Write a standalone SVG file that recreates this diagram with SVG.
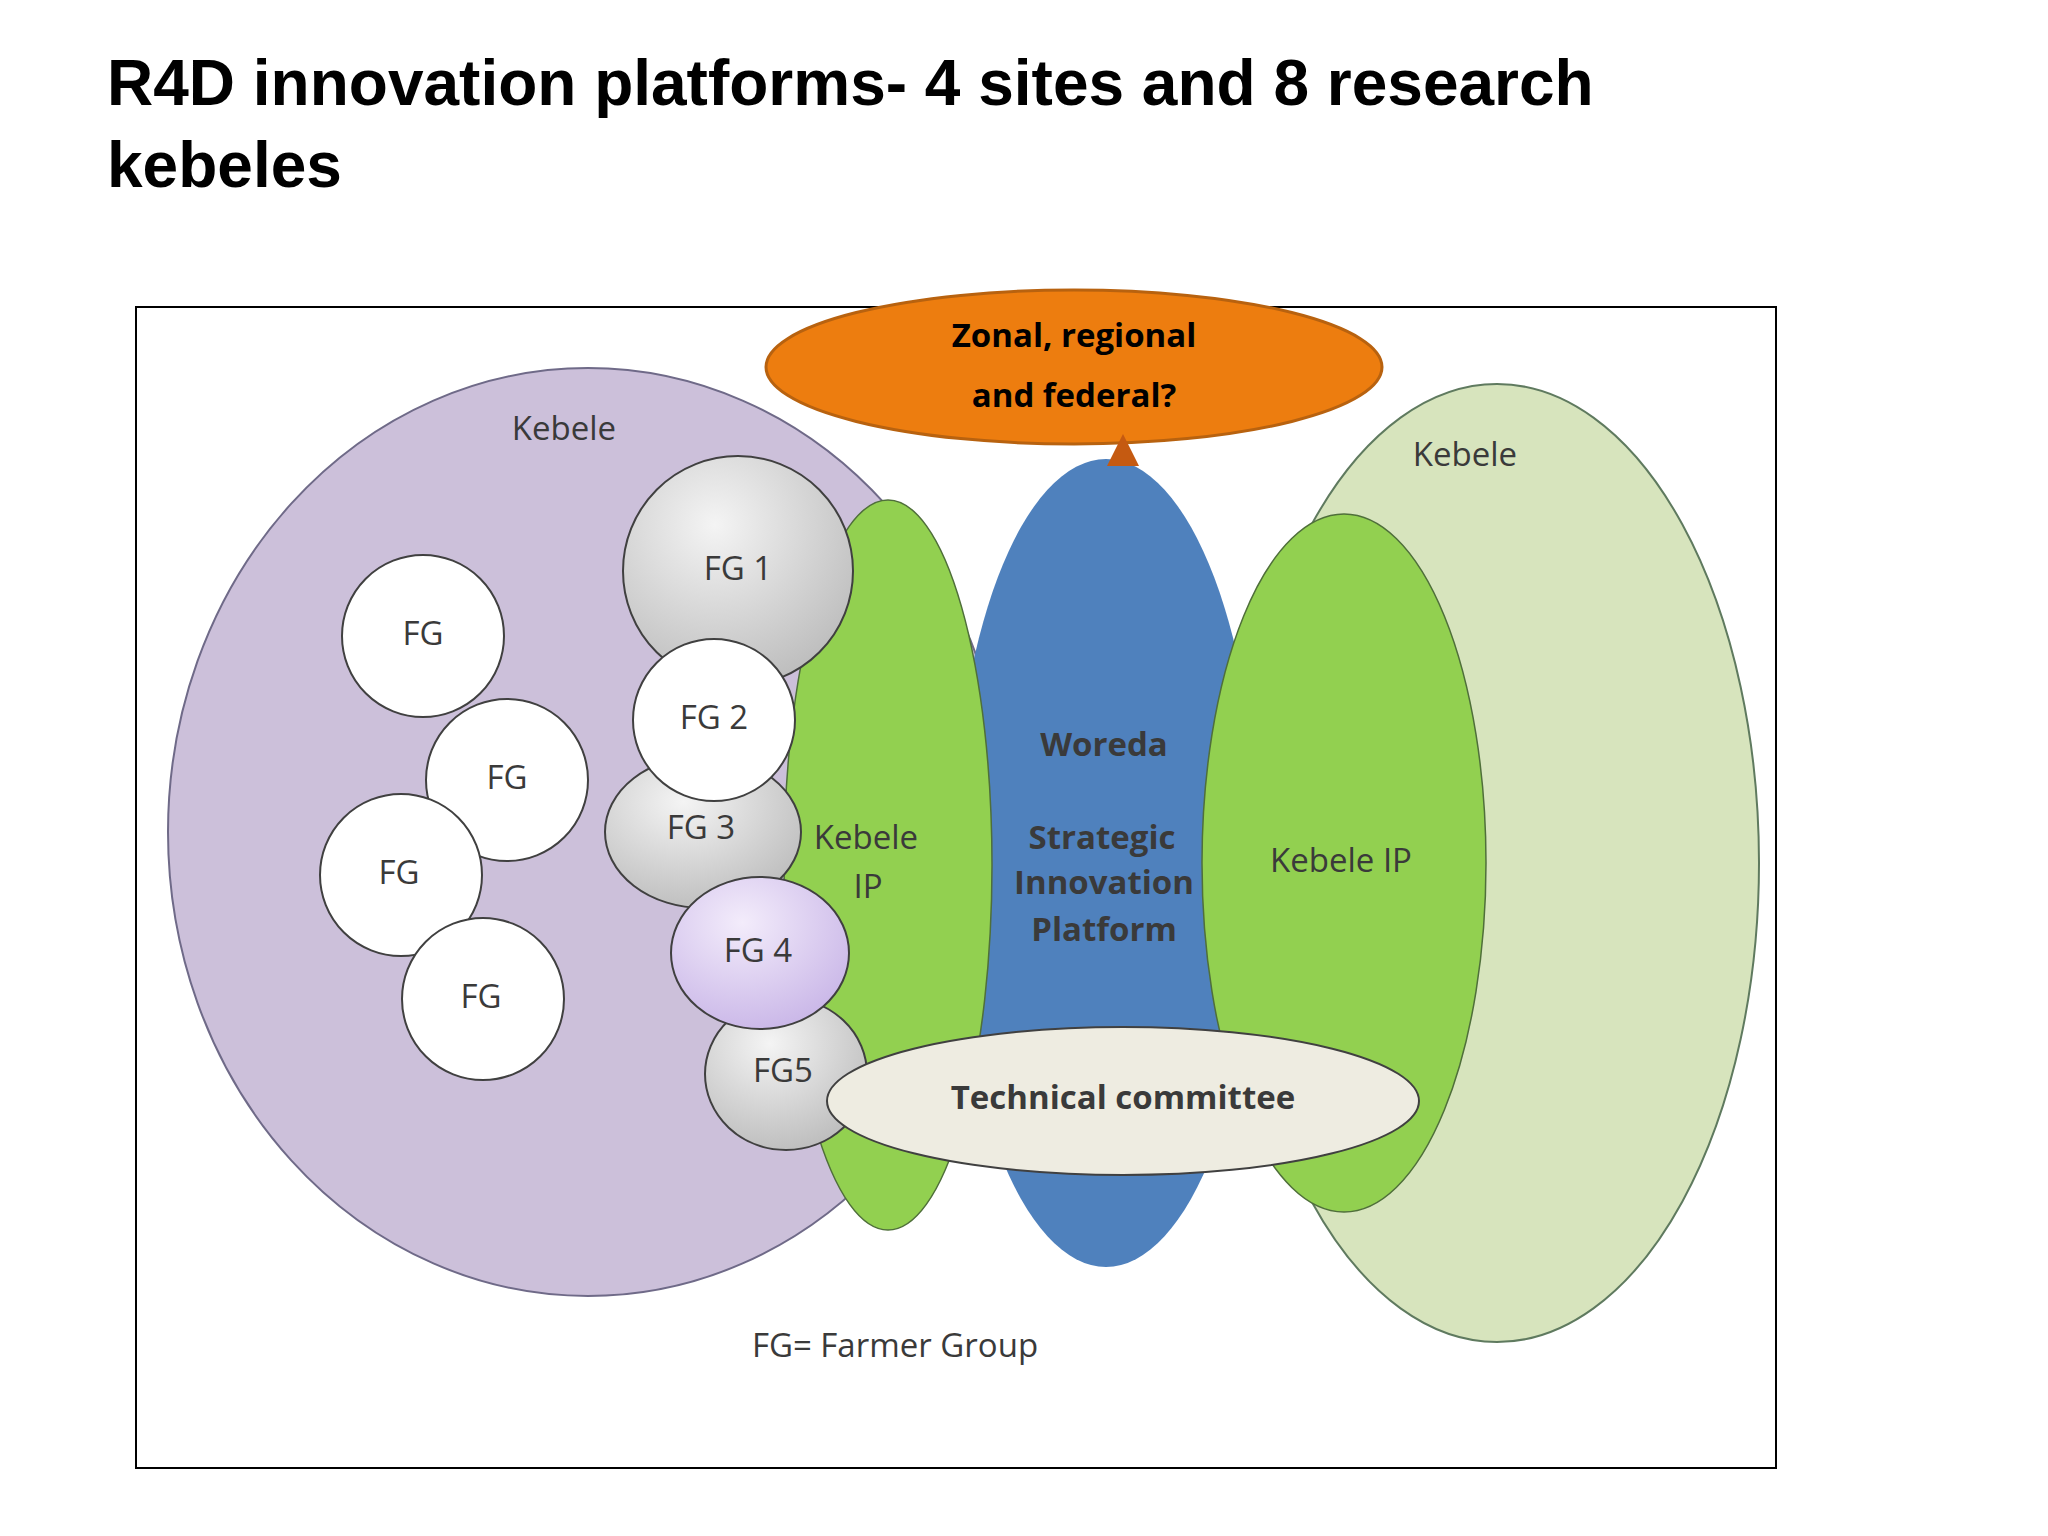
<svg xmlns="http://www.w3.org/2000/svg" width="2048" height="1536" viewBox="0 0 2048 1536">
<style>
.t{font-family:"Open Sans","Noto Sans",sans-serif;font-size:33px;fill:#3a3a3a;text-anchor:middle;dominant-baseline:middle}
.b{font-weight:bold}
.fg{stroke:#404040;stroke-width:2}
</style>
<defs>
<radialGradient id="gray" cx="0.4" cy="0.3" r="0.8"><stop offset="0" stop-color="#f4f4f4"/><stop offset="1" stop-color="#b8b8b8"/></radialGradient>
<radialGradient id="purp" cx="0.4" cy="0.3" r="0.8"><stop offset="0" stop-color="#f3ecfb"/><stop offset="1" stop-color="#c6b2e6"/></radialGradient>
<marker id="ar" markerWidth="8" markerHeight="8" refX="4" refY="4" orient="auto"><path d="M0,0L8,4L0,8z" fill="#c55a11"/></marker>
</defs>
<rect width="2048" height="1536" fill="#fff"/>
<text x="107" y="88" font-family="Liberation Sans,Arial,sans-serif" font-size="64" font-weight="bold" fill="#000" dominant-baseline="middle">R4D innovation platforms- 4 sites and 8 research</text>
<text x="107" y="170" font-family="Liberation Sans,Arial,sans-serif" font-size="64" font-weight="bold" fill="#000" dominant-baseline="middle">kebeles</text>
<rect x="136" y="307" width="1640" height="1161" fill="none" stroke="#000" stroke-width="2"/>
<g id="kebele-right"><ellipse cx="1497" cy="863" rx="262" ry="479" fill="#d7e4bd" stroke="#5f7a5f" stroke-width="2"/><text class="t" x="1465" y="457">Kebele</text></g>
<g id="kebele-left"><ellipse cx="588" cy="832" rx="420" ry="464" fill="#ccc0da" stroke="#6f6a88" stroke-width="2"/><text class="t" x="564" y="431">Kebele</text></g>
<g id="woreda"><ellipse cx="1106" cy="863" rx="153" ry="404" fill="#4f81bd"/>
<text class="t b" x="1104" y="747">Woreda</text><text class="t b" x="1102" y="840">Strategic</text><text class="t b" x="1104" y="885">Innovation</text><text class="t b" x="1104" y="932">Platform</text></g>
<g id="kebele-ip-left"><ellipse cx="888" cy="865" rx="104" ry="365" fill="#92d050" stroke="#4f6f3a" stroke-width="1.5"/><text class="t" x="866" y="840">Kebele</text><text class="t" x="868" y="889">IP</text></g>
<g id="kebele-ip-right"><ellipse cx="1344" cy="863" rx="142" ry="349" fill="#92d050" stroke="#4f6f3a" stroke-width="1.5"/><text class="t" x="1341" y="863">Kebele IP</text></g>
<g id="fg-a"><circle class="fg" cx="423" cy="636" r="81" fill="#fff"/><text class="t" x="423" y="636">FG</text></g>
<g id="fg-b"><circle class="fg" cx="507" cy="780" r="81" fill="#fff"/><text class="t" x="507" y="780">FG</text></g>
<g id="fg-c"><circle class="fg" cx="401" cy="875" r="81" fill="#fff"/><text class="t" x="399" y="875">FG</text></g>
<g id="fg-d"><circle class="fg" cx="483" cy="999" r="81" fill="#fff"/><text class="t" x="481" y="999">FG</text></g>
<g id="fg1"><circle class="fg" cx="738" cy="571" r="115" fill="url(#gray)"/><text class="t" x="738" y="571">FG 1</text></g>
<g id="fg3"><ellipse class="fg" cx="703" cy="832" rx="98" ry="76" fill="url(#gray)"/><text class="t" x="701" y="830">FG 3</text></g>
<g id="fg2"><circle class="fg" cx="714" cy="720" r="81" fill="#fff"/><text class="t" x="714" y="720">FG 2</text></g>
<g id="fg5"><ellipse class="fg" cx="786" cy="1074" rx="81" ry="76" fill="url(#gray)"/><text class="t" x="783" y="1073">FG5</text></g>
<g id="fg4"><ellipse class="fg" cx="760" cy="953" rx="89" ry="76" fill="url(#purp)"/><text class="t" x="758" y="953">FG 4</text></g>
<g id="tech"><ellipse cx="1123" cy="1101" rx="296" ry="74" fill="#eeece1" stroke="#404040" stroke-width="2"/><text class="t b" x="1123" y="1100" font-size="31">Technical committee</text></g>
<g id="zonal"><ellipse cx="1074" cy="367" rx="308" ry="77" fill="#ed7d0f" stroke="#b8620f" stroke-width="3"/>
<text class="t b" x="1074" y="338" font-size="43" fill="#000" style="fill:#000">Zonal, regional</text><text class="t b" x="1074" y="398" font-size="43" style="fill:#000">and federal?</text></g>
<g id="connectors"><line x1="1123" y1="462" x2="1123" y2="450" stroke="#c55a11" stroke-width="4" marker-end="url(#ar)"/></g>
<text class="t" x="895" y="1348" font-size="34">FG= Farmer Group</text>
</svg>
